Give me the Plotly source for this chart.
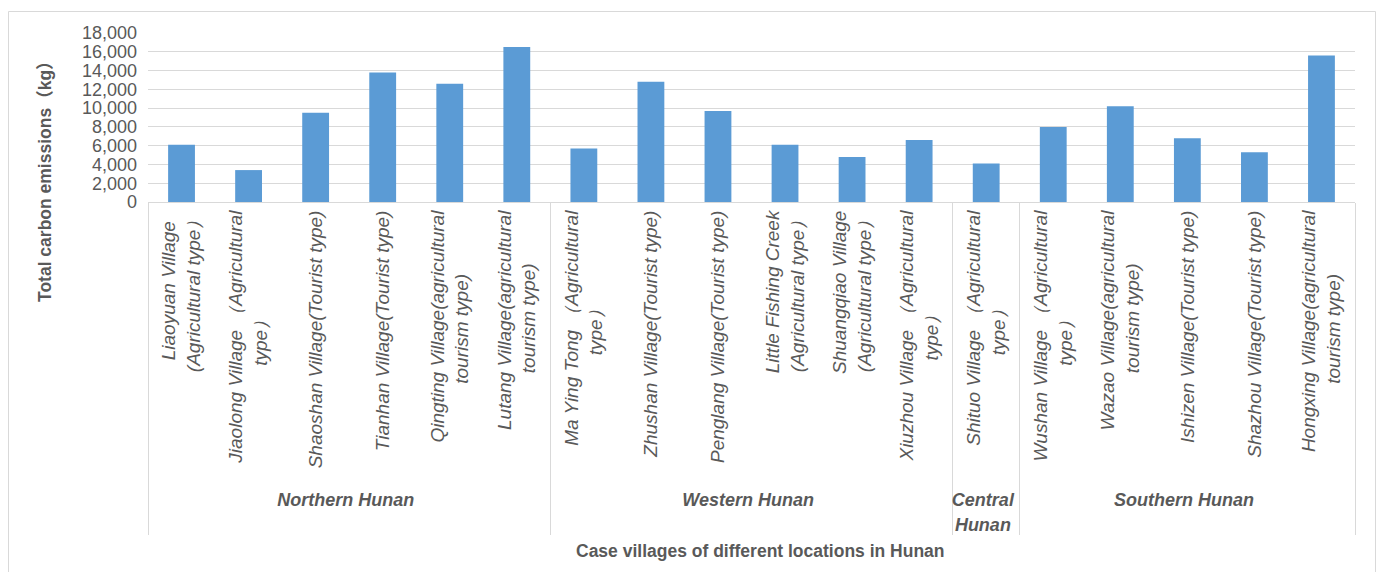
import plotly.graph_objects as go

NB = "\u00a0"  # non-breaking space, used to centre the shorter line of a two-line label


def region(name):
    # outer-level labels are drawn bold and slightly smaller than the village names
    return "<b><span style='font-size:18px'>" + name + "</span></b>"


# Region of each village (outer level of the category axis)
regions = ([region("Northern Hunan")] * 6 + [region("Western Hunan")] * 6
           + [region("Central<br>Hunan")] + [region("Southern Hunan")] * 5)

# Village names with their type (inner level of the category axis)
villages = [
    "Liaoyuan Village" + NB * 2 + "<br>(Agricultural type）",
    "Jiaolong Village （Agricultural<br>type）" + NB * 19,
    "Shaoshan Village(Tourist type)",
    "Tianhan Village(Tourist type)",
    "Qingting Village(agricultural<br>tourism type)" + NB * 12,
    "Lutang Village(agricultural<br>tourism type)" + NB * 10,
    "Ma Ying Tong （Agricultural<br>type）" + NB * 17,
    "Zhushan Village(Tourist type)",
    "Penglang Village(Tourist type)",
    "Little Fishing Creek<br>(Agricultural type）",
    "Shuangqiao Village<br>(Agricultural type）",
    "Xiuzhou Village （Agricultural<br>type）" + NB * 18,
    "Shituo Village （Agricultural<br>type）" + NB * 17,
    "Wushan Village （Agricultural<br>type）" + NB * 19,
    "Wazao Village(agricultural<br>tourism type)" + NB * 10,
    "Ishizen Village(Tourist type)",
    "Shazhou Village(Tourist type)",
    "Hongxing Village(agricultural<br>tourism type)" + NB * 12,
]

# Total carbon emissions per village (kg)
emissions = [6100, 3400, 9500, 13800, 12600, 16500,
             5700, 12800, 9700, 6100, 4800, 6600,
             4100,
             8000, 10200, 6800, 5300, 15600]

y_ticks = list(range(0, 18001, 2000))

W, H = 1380, 572
L, R, T, B = 148, 25, 33, 370
pw, ph = W - L - R, H - T - B

def px_x(x):
    return (x - L) / pw

def px_y(y):
    return (H - B - y) / ph

TEXT = "#595959"
GRID = "#D9D9D9"
FONT = "Liberation Sans, Arial, sans-serif"

fig = go.Figure(
    go.Bar(
        x=[regions, villages],
        y=emissions,
        marker=dict(color="#5B9BD5", line=dict(width=0)),
    )
)

fig.update_layout(
    width=W,
    height=H,
    margin=dict(l=L, r=R, t=T, b=B),
    paper_bgcolor="white",
    plot_bgcolor="white",
    bargap=0.6,
    showlegend=False,
    font=dict(family=FONT, color=TEXT, size=18),
    xaxis=dict(
        type="multicategory",
        tickangle=-90,
        tickfont=dict(family=FONT, size=19, color=TEXT, style="italic"),
        showline=True,
        linecolor=GRID,
        linewidth=1,
        showgrid=False,
        showdividers=True,
        dividercolor=GRID,
        dividerwidth=1,
        ticks="",
    ),
    yaxis=dict(
        range=[0, 18000],
        tickvals=y_ticks,
        tickformat=",d",
        tickfont=dict(family=FONT, size=18, color=TEXT),
        showgrid=True,
        gridcolor=GRID,
        gridwidth=1,
        zeroline=False,
        showline=False,
        ticks="",
        ticklabelstandoff=10,
    ),
    shapes=[
        dict(
            type="rect", xref="paper", yref="paper",
            x0=px_x(8.5), x1=px_x(1375.5), y0=px_y(585), y1=px_y(11.5),
            line=dict(color=GRID, width=1), fillcolor="rgba(0,0,0,0)",
            layer="below",
        )
    ],
    annotations=[
        dict(
            text="<b>Total carbon emissions（kg）</b>",
            xref="paper", yref="paper",
            x=px_x(45), y=px_y(177),
            xanchor="center", yanchor="middle",
            textangle=-90, showarrow=False,
            font=dict(family=FONT + ", Noto Sans CJK SC", size=17.5, color=TEXT),
        ),
        dict(
            text="<b>Case villages of different locations in Hunan</b>",
            xref="paper", yref="paper",
            x=px_x(760), y=px_y(551),
            xanchor="center", yanchor="middle",
            showarrow=False,
            font=dict(family=FONT, size=17.5, color=TEXT),
        ),
    ],
)

fig.write_html("out.html")
